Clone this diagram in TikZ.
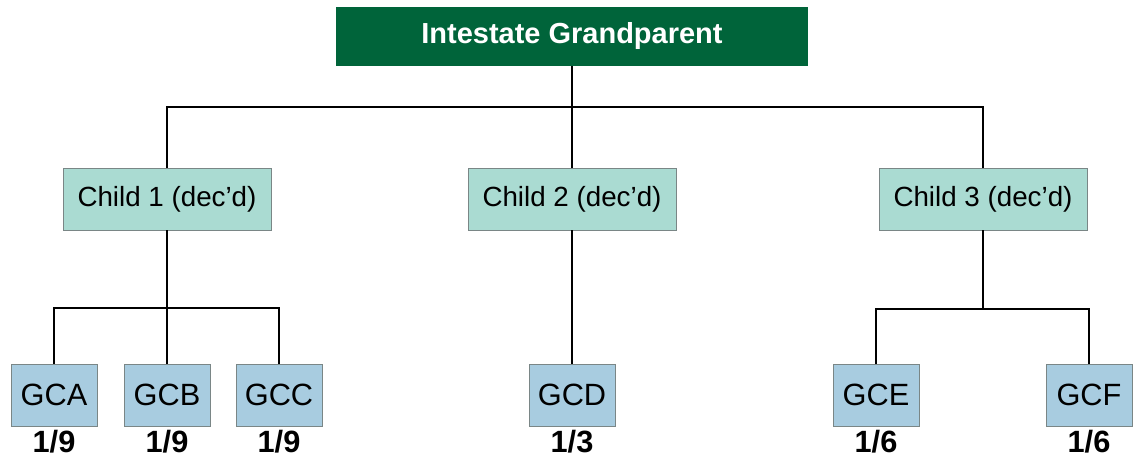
\documentclass[tikz,border=0pt]{standalone}
\usepackage{fontspec}
\setmainfont{Liberation Sans}
\usepackage{tikz}
\usetikzlibrary{positioning}
\usepackage{xcolor}
\definecolor{grandgreen}{HTML}{00643A}
\definecolor{childfill}{HTML}{AADBD2}
\definecolor{gcfill}{HTML}{A8CCE0}
\definecolor{boxline}{HTML}{7A8686}

\begin{document}
\begin{tikzpicture}[x=0.02cm,y=-0.02cm,
  grandbox/.style={fill=grandgreen,text=white,font=\fontsize{16.5}{19}\selectfont\bfseries,minimum width=9.46cm,minimum height=1.18cm,inner sep=0pt},
  childbox/.style={draw=boxline,fill=childfill,font=\fontsize{15.8}{18}\selectfont,minimum width=4.16cm,minimum height=1.24cm,inner sep=0pt},
  gcbox/.style={draw=boxline,fill=gcfill,font=\fontsize{17.5}{20}\selectfont,minimum width=1.72cm,minimum height=1.24cm,inner sep=0pt},
  share/.style={font=\fontsize{17.5}{20}\selectfont\bfseries,inner sep=0pt},
  link/.style={line width=0.8pt}]
\useasboundingbox (0,0) rectangle (1133,459);

\node[grandbox] (grand) at (572,36.5) {Intestate Grandparent};

\node[childbox] (childI) at (167,199) {Child 1 (dec'd)};
\node[childbox] (childII) at (572,199) {Child 2 (dec'd)};
\node[childbox] (childIII) at (983,199) {Child 3 (dec'd)};

\node[gcbox] (gca) at (54,395) {GCA};
\node[gcbox] (gcb) at (167,395) {GCB};
\node[gcbox] (gcc) at (279,395) {GCC};
\node[gcbox] (gcd) at (572,395) {GCD};
\node[gcbox] (gce) at (876,395) {GCE};
\node[gcbox] (gcf) at (1089,395) {GCF};

\node[share, below=0.08cm of gca] (sa) {1/9};
\node[share, below=0.08cm of gcb] (sb) {1/9};
\node[share, below=0.08cm of gcc] (sc) {1/9};
\node[share, below=0.08cm of gcd] (sd) {1/3};
\node[share, below=0.08cm of gce] (se) {1/6};
\node[share, below=0.08cm of gcf] (sf) {1/6};

\coordinate (topbar) at (572,107);
\coordinate (barI) at (167,308);
\coordinate (barIII) at (983,309);

\draw[link] (grand.south) -- (childII.north);
\draw[link] (childI.north) |- (topbar) -| (childIII.north);

\draw[link] (childI.south) -- (gcb.north);
\draw[link] (gca.north) |- (barI) -| (gcc.north);

\draw[link] (childII.south) -- (gcd.north);

\draw[link] (childIII.south) -- (barIII);
\draw[link] (gce.north) |- (barIII) -| (gcf.north);
\end{tikzpicture}
\end{document}
